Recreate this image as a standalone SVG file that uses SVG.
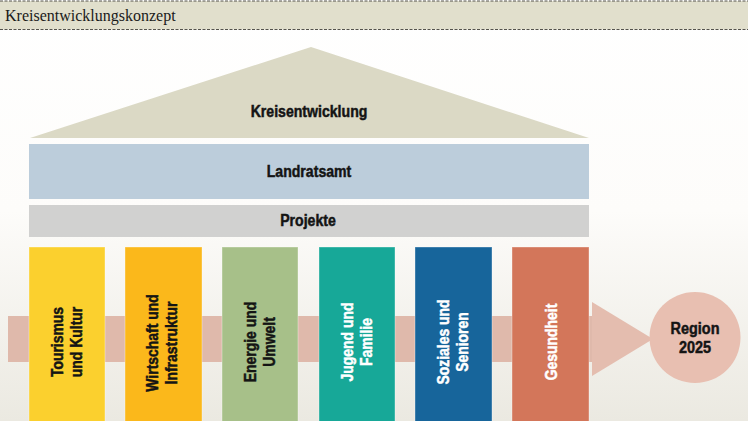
<svg xmlns="http://www.w3.org/2000/svg" width="748" height="421" viewBox="0 0 748 421">
<defs>
<linearGradient id="bg" x1="0" y1="0" x2="0" y2="421" gradientUnits="userSpaceOnUse">
<stop offset="0" stop-color="#ffffff"/>
<stop offset="0.5" stop-color="#fdfcfa"/>
<stop offset="1" stop-color="#ebe9e1"/>
</linearGradient>
</defs>
<style>
.lbl{font-family:"Liberation Sans",Arial,sans-serif;font-weight:bold;font-size:17px;text-anchor:middle;fill:#141414;stroke:#141414;stroke-width:0.5}
.pl{font-family:"Liberation Sans",Arial,sans-serif;font-weight:bold;font-size:17px;text-anchor:middle;stroke-width:0.5}
.dark{fill:#141414;stroke:#141414}
.light{fill:#ffffff;stroke:#ffffff}
.pillar{stroke:#ffffff;stroke-opacity:0.35;stroke-width:1}
.dash{stroke:#55534c;stroke-width:1.2;stroke-dasharray:3 1.5;fill:none}
</style>
<rect width="748" height="421" fill="url(#bg)"/>
<g id="header">
<rect x="0" y="1" width="748" height="28.5" fill="#e1dfcc"/>
<line class="dash" x1="0" y1="1" x2="748" y2="1"/>
<line class="dash" x1="0" y1="29.5" x2="748" y2="29.5"/>
<text x="5" y="21" font-family="Liberation Serif,'Times New Roman',serif" font-size="16" fill="#1a1a1a">Kreisentwicklungskonzept</text>
</g>
<g id="connectors">
<rect x="8" y="316" width="584" height="46" fill="#dfb9ab"/>
<polygon points="592,302 653,339 592,376" fill="#e4bdaf"/>
</g>
<g id="roof">
<polygon points="30,138 311,47 589,138" fill="#dbd9c5"/>
<text class="lbl" transform="translate(309,117) scale(0.83,1)">Kreisentwicklung</text>
</g>
<g id="landratsamt">
<rect x="29" y="144" width="560" height="55" fill="#bccddb"/>
<text class="lbl" transform="translate(309,177) scale(0.83,1)">Landratsamt</text>
</g>
<g id="projekte">
<rect x="29" y="205" width="560" height="32" fill="#d1d1d0"/>
<text class="lbl" transform="translate(308,226) scale(0.83,1)">Projekte</text>
</g>
<g id="pillar-tourismus">
<rect class="pillar" x="29" y="247" width="76" height="175" fill="#fbd02e"/>
<text class="pl dark" transform="translate(67,342) rotate(-90) scale(0.82,1)"><tspan x="0" y="-4">Tourismus</tspan><tspan x="0" y="15">und Kultur</tspan></text>
</g>
<g id="pillar-wirtschaft">
<rect class="pillar" x="125" y="247" width="77" height="175" fill="#fbb81b"/>
<text class="pl dark" transform="translate(163,343) rotate(-90) scale(0.82,1)"><tspan x="0" y="-5">Wirtschaft und</tspan><tspan x="0" y="14">Infrastruktur</tspan></text>
</g>
<g id="pillar-energie">
<rect class="pillar" x="222" y="247" width="76" height="175" fill="#a7c089"/>
<text class="pl dark" transform="translate(260,342) rotate(-90) scale(0.82,1)"><tspan x="0" y="-4">Energie und</tspan><tspan x="0" y="15">Umwelt</tspan></text>
</g>
<g id="pillar-jugend">
<rect class="pillar" x="319" y="247" width="76" height="175" fill="#17a898"/>
<text class="pl light" transform="translate(357,342) rotate(-90) scale(0.82,1)"><tspan x="0" y="-4">Jugend und</tspan><tspan x="0" y="15">Familie</tspan></text>
</g>
<g id="pillar-soziales">
<rect class="pillar" x="415" y="247" width="77" height="175" fill="#17659b"/>
<text class="pl light" transform="translate(453,342) rotate(-90) scale(0.82,1)"><tspan x="0" y="-4">Soziales und</tspan><tspan x="0" y="15">Senioren</tspan></text>
</g>
<g id="pillar-gesundheit">
<rect class="pillar" x="512" y="247" width="77" height="175" fill="#d3765a"/>
<text class="pl light" transform="translate(550,342) rotate(-90) scale(0.82,1)"><tspan x="0" y="7">Gesundheit</tspan></text>
</g>
<g id="region">
<circle cx="695" cy="337.5" r="45.5" fill="#e8bfb1"/>
<text class="lbl" transform="translate(695,334) scale(0.85,1)"><tspan x="0" y="0">Region</tspan><tspan x="0" y="19">2025</tspan></text>
</g>
</svg>
